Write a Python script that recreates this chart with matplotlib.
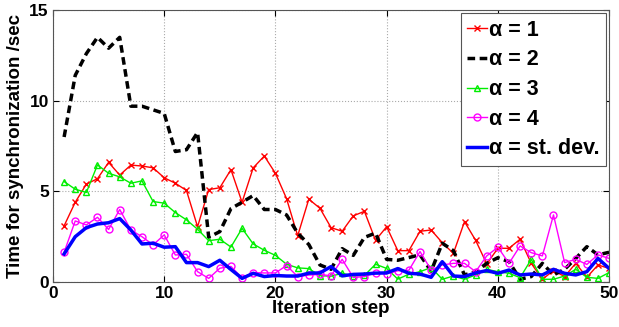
import matplotlib
matplotlib.use("Agg")
import matplotlib.pyplot as plt

steps = list(range(1, 51))

alpha1 = [3.1, 4.4, 5.4, 5.7, 6.6, 5.9, 6.45, 6.4, 6.3, 5.75,
          5.45, 5.05, 3.05, 5.1, 5.2, 6.2, 4.4, 6.3, 6.95, 6.0,
          4.6, 2.55, 4.57, 4.07, 3.0, 2.8, 3.65, 3.9, 2.3, 3.05,
          1.73, 1.73, 2.8, 2.87, 2.17, 1.58, 3.33, 2.3, 1.0, 1.86,
          1.86, 2.36, 1.03, 0.15, 0.63, 0.3, 1.03, 0.26, 0.94, 0.75]
alpha2 = [8.0, 11.4, 12.6, 13.5, 12.9, 13.5, 9.7, 9.7, 9.5, 9.3,
          7.2, 7.3, 8.25, 2.47, 2.78, 4.05, 4.4, 4.77, 4.0, 4.0,
          3.7, 2.7, 2.07, 0.94, 0.7, 1.84, 1.47, 2.46, 2.7, 1.25,
          1.2, 1.35, 1.5, 0.6, 2.14, 1.73, 0.39, 0.57, 1.03, 1.34,
          1.12, 0.15, 0.3, 1.03, 0.39, 0.7, 1.3, 1.95, 1.5, 1.64]
alpha3 = [5.54, 5.12, 4.94, 6.46, 6.0, 5.8, 5.45, 5.58, 4.44, 4.35,
          3.83, 3.43, 2.91, 2.28, 2.36, 1.93, 2.96, 2.1, 1.75, 1.47,
          0.98, 0.78, 0.74, 0.35, 0.32, 0.48, 0.33, 0.36, 0.98, 0.75,
          0.16, 0.43, 0.57, 0.8, 0.15, 0.33, 0.15, 0.39, 0.7, 0.57,
          0.48, 0.24, 1.25, 0.15, 0.15, 0.33, 0.7, 0.26, 0.2, 0.52]
alpha4 = [1.64, 3.37, 3.15, 3.57, 2.9, 4.0, 2.87, 2.5, 2.05, 2.6,
          1.49, 1.53, 0.57, 0.2, 0.76, 0.86, 0.23, 0.52, 0.5, 0.5,
          0.91, 0.3, 0.38, 0.42, 0.34, 1.25, 0.25, 0.3, 0.5, 0.45,
          0.62, 0.65, 1.68, 0.66, 0.94, 1.03, 1.03, 0.57, 1.44, 1.92,
          1.03, 1.99, 1.62, 1.44, 3.7, 1.07, 1.25, 0.97, 1.5, 1.3]
stdev = [1.55, 2.5, 3.0, 3.2, 3.27, 3.5, 2.87, 2.1, 2.14, 1.92,
         1.95, 1.07, 1.07, 0.85, 1.2, 0.69, 0.2, 0.48, 0.3, 0.36,
         0.33, 0.33, 0.49, 0.5, 0.85, 0.34, 0.42, 0.44, 0.49, 0.5,
         0.74, 0.48, 0.44, 0.26, 1.12, 0.33, 0.3, 0.5, 0.63, 0.48,
         0.66, 0.39, 0.44, 0.39, 0.7, 0.48, 0.39, 0.57, 1.3, 0.75]

plt.rcParams["font.family"] = ["Liberation Sans", "DejaVu Sans"]
plt.rcParams["font.weight"] = "bold"

fig = plt.figure(figsize=(6.19, 3.27), dpi=100)
ax = fig.add_axes([0.0856, 0.1376, 0.8984, 0.8314])

ax.plot(steps, alpha1, "-x", color="#ff0000", lw=1.0, ms=5, mew=1.0, label="α = 1")
ax.plot(steps, alpha2, "--", color="black", lw=2.5, dashes=(2.2, 1.3), label="α = 2")
ax.plot(steps, alpha3, "-^", color="#00ee00", lw=1.0, ms=5, mfc="none", mew=1.0, label="α = 3")
ax.plot(steps, alpha4, "-o", color="#ff00ff", lw=1.0, ms=5, mfc="none", mew=1.0, label="α = 4")
ax.plot(steps, stdev, "-", color="#0000ff", lw=2.5, label="α = st. dev.")

ax.set_xlim(0, 50)
ax.set_ylim(0, 15)
ax.set_xticks([0, 10, 20, 30, 40, 50])
ax.set_yticks([0, 5, 10, 15])
ax.tick_params(direction="in", labelsize=12.5, top=True, right=True, length=4, pad=3)
ax.grid(True, linestyle=":", color="#aaaaaa", lw=0.8)
for s in ax.spines.values():
    s.set_color("#555555")

ax.set_xlabel("Iteration step", fontsize=13.5, fontweight="bold", labelpad=-1)
ax.set_ylabel("Time for synchronization /sec", fontsize=13.5, fontweight="bold", labelpad=4)

leg = ax.legend(loc="upper right", fontsize=15.5, handlelength=0.9, handletextpad=0.1,
                labelspacing=0.4, borderpad=0.3, fancybox=False, framealpha=1,
                edgecolor="#555555", borderaxespad=0.15)
leg.get_frame().set_linewidth(0.8)

fig.savefig("out.png", dpi=100)
